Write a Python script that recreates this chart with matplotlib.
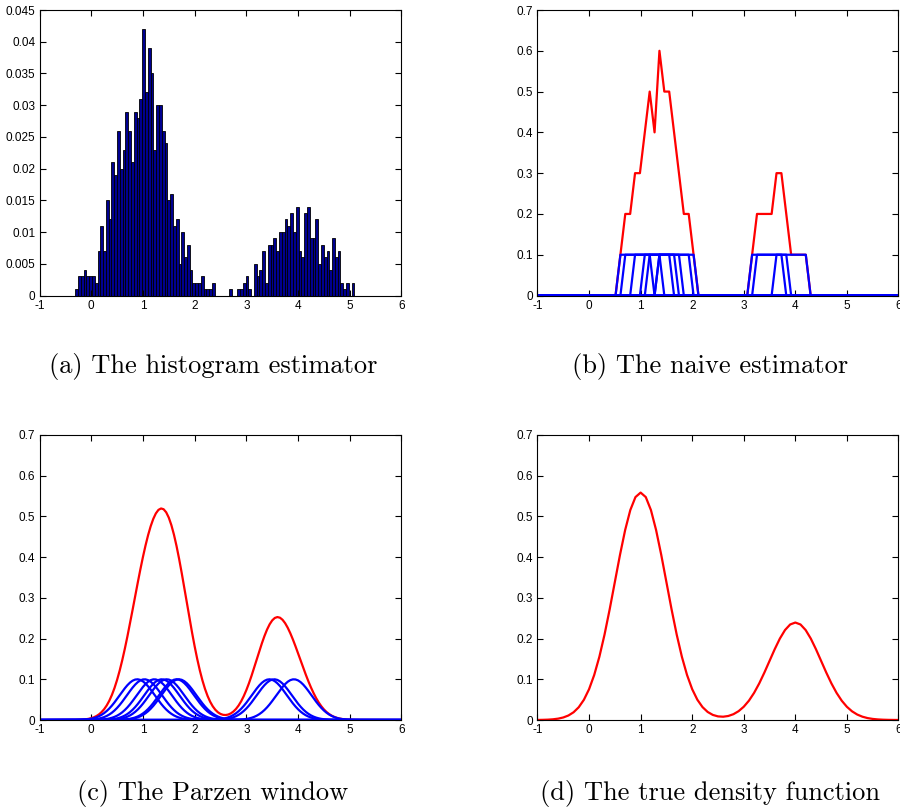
import numpy as np
import matplotlib.pyplot as plt

plt.rcParams['font.family'] = ['Liberation Sans', 'DejaVu Sans']

# (a) histogram estimator: relative frequencies of 100 equal bins
hist_start = -0.31
hist_width = 0.054
hist_heights = [
    0.001, 0.003, 0.003, 0.004, 0.003, 0.003, 0.003, 0.002,
    0.007, 0.011, 0.007, 0.015, 0.012, 0.021, 0.019, 0.026, 0.020, 0.023, 0.029, 0.026,
    0.021, 0.029, 0.028, 0.031, 0.042, 0.032, 0.039, 0.035, 0.023, 0.030,
    0.030, 0.026, 0.024, 0.015, 0.016, 0.011, 0.012, 0.005, 0.010, 0.006,
    0.008, 0.004, 0.002, 0.002, 0.002, 0.003, 0.001, 0.001, 0.001, 0.002,
    0, 0, 0, 0, 0, 0.001, 0, 0, 0.001, 0.001,
    0.002, 0.003, 0.001, 0, 0.005, 0.003, 0.004, 0.007, 0.002, 0.008,
    0.008, 0.009, 0.007, 0.010, 0.010, 0.012, 0.011, 0.013, 0.010, 0.014,
    0.007, 0.006, 0.013, 0.014, 0.009, 0.009, 0.012, 0.005, 0.008, 0.006,
    0.007, 0.004, 0.009, 0.006, 0.007, 0.002, 0.001, 0.002, 0, 0.002,
]

# sample points shared by the naive estimator (b) and the Parzen window (c)
sample_pts = [0.89, 1.03, 1.22, 1.365, 1.46, 1.65, 1.695, 3.445, 3.54, 3.92]
box_width = 0.71
box_height = 0.1
kernel_sigma = 0.34
kernel_height = 0.1

# (d) true density: two-component normal mixture
mix_weights = [0.7, 0.3]
mix_means = [1.0, 4.0]
mix_sd = 0.5

xticks = [-1, 0, 1, 2, 3, 4, 5, 6]
hist_yticks = [0, 0.005, 0.01, 0.015, 0.02, 0.025, 0.03, 0.035, 0.04, 0.045]
hist_ylabels = ['0', '0.005', '0.01', '0.015', '0.02', '0.025', '0.03', '0.035', '0.04', '0.045']
dens_yticks = [0, 0.1, 0.2, 0.3, 0.4, 0.5, 0.6, 0.7]
dens_ylabels = ['0', '0.1', '0.2', '0.3', '0.4', '0.5', '0.6', '0.7']
captions = ['(a) The histogram estimator', '(b) The naive estimator',
            '(c) The Parzen window', '(d) The true density function']


def style(ax, yticks, ylabels):
    ax.set_xlim(-1, 6)
    ax.set_ylim(yticks[0], yticks[-1])
    ax.set_xticks(xticks)
    ax.set_xticklabels([str(t) for t in xticks])
    ax.set_yticks(yticks)
    ax.set_yticklabels(ylabels)
    ax.tick_params(direction='in', top=True, right=True, length=4, width=0.8,
                   labelsize=8.5, pad=3, colors='black')
    for s in ax.spines.values():
        s.set_linewidth(0.8)


fig = plt.figure(figsize=(9, 8.07), dpi=100)
ax_a = fig.add_axes([0.0439, 0.6338, 0.4022, 0.3538])
ax_b = fig.add_axes([0.5972, 0.6338, 0.4011, 0.3538])
ax_c = fig.add_axes([0.0439, 0.1078, 0.4022, 0.3532])
ax_d = fig.add_axes([0.5972, 0.1078, 0.4011, 0.3532])

# histogram
lefts = hist_start + hist_width * np.arange(len(hist_heights))
ax_a.bar(lefts, hist_heights, width=hist_width, align='edge',
         color='#000090', edgecolor='black', linewidth=0.6)
style(ax_a, hist_yticks, hist_ylabels)

# naive estimator
xg = np.linspace(-1, 6, 75)
boxes = [box_height * (np.abs(xg - p) <= box_width / 2) for p in sample_pts]
ax_b.plot(xg, np.sum(boxes, axis=0), color='red', lw=1.6)
for b in boxes:
    ax_b.plot(xg, b, color='blue', lw=1.6)
style(ax_b, dens_yticks, dens_ylabels)

# Parzen window
xp = np.linspace(-1, 6, 141)
kernels = [kernel_height * np.exp(-(xp - p) ** 2 / (2 * kernel_sigma ** 2)) for p in sample_pts]
ax_c.plot(xp, np.sum(kernels, axis=0), color='red', lw=1.6)
for k in kernels:
    ax_c.plot(xp, k, color='blue', lw=1.6)
style(ax_c, dens_yticks, dens_ylabels)

# true density
xd = np.linspace(-1, 6, 71)
dens = sum(w * np.exp(-(xd - m) ** 2 / (2 * mix_sd ** 2)) / (mix_sd * np.sqrt(2 * np.pi))
           for w, m in zip(mix_weights, mix_means))
ax_d.plot(xd, dens, color='red', lw=1.6)
style(ax_d, dens_yticks, dens_ylabels)

for (x, y), txt in zip([(0.2367, 0.5455), (0.7894, 0.5455), (0.2361, 0.017), (0.7889, 0.017)], captions):
    fig.text(x, y, txt, ha='center', va='center', fontsize=19, family='cmr10')

fig.savefig('out.png', dpi=100)
